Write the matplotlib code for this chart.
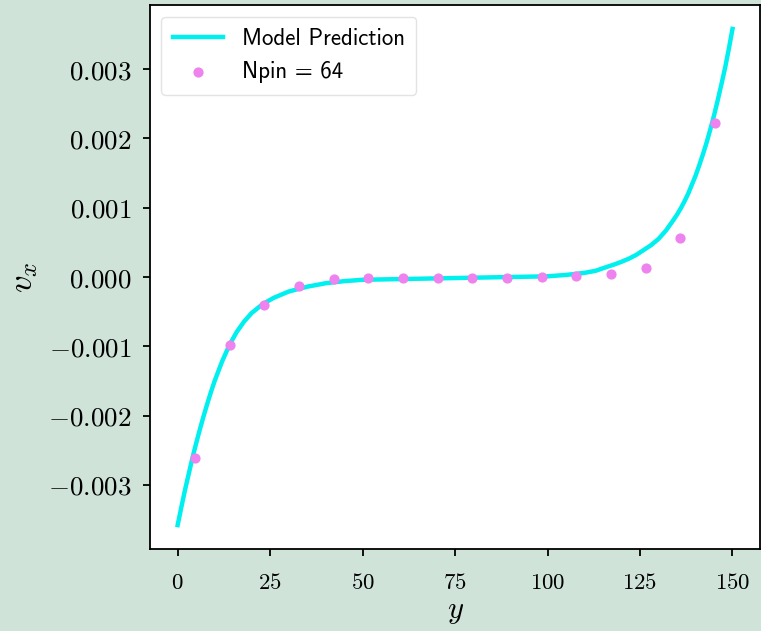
import matplotlib
matplotlib.use('Agg')
import matplotlib.pyplot as plt
import numpy as np

plt.rcParams['mathtext.fontset'] = 'cm'

# model prediction curve
y_model = [0, 1, 2, 3, 4, 5, 6, 7, 8, 9, 10, 11, 12, 13, 14, 16, 18, 20, 23, 26,
           30, 35, 40, 45, 50, 60, 70, 80, 90, 100, 105, 110, 113, 116, 118, 120,
           122, 124, 126, 128, 130, 132, 134, 135, 136, 137, 138, 139, 140, 141,
           142, 143, 144, 145, 146, 147, 148, 149, 150]
vx_model = [-0.00358, -0.00332, -0.00307, -0.00284, -0.00261, -0.00240, -0.00220,
            -0.00201, -0.00183, -0.00166, -0.00150, -0.00136, -0.00122, -0.00110,
            -0.00098, -0.00079, -0.00064, -0.00052, -0.00039, -0.00030, -0.00021,
            -0.00014, -0.00009, -0.00006, -0.00004, -0.00003, -0.00002, -0.00001,
            0.0, 0.00001, 0.00003, 0.00006, 0.00009, 0.000145, 0.00018, 0.00022,
            0.000265, 0.00032, 0.00039, 0.00046, 0.00055, 0.00067, 0.00082, 0.00090,
            0.00099, 0.00109, 0.00120, 0.00133, 0.00146, 0.00161, 0.00177, 0.00194,
            0.00213, 0.00233, 0.00255, 0.00278, 0.00302, 0.00329, 0.00358]

# Npin = 64 samples
y_pin = [4.69, 14.06, 23.44, 32.81, 42.19, 51.56, 60.94, 70.31, 79.69, 89.06,
         98.44, 107.81, 117.19, 126.56, 135.94, 145.31]
vx_pin = [-0.00261, -0.00098, -0.00040, -0.00013, -0.00003, -0.00001, -0.00001,
          -0.00001, -0.00001, -0.00001, 0.0, 0.00001, 0.00004, 0.00013, 0.00056,
          0.00222]

xticks = [0, 25, 50, 75, 100, 125, 150]
yticks = [-0.003, -0.002, -0.001, 0.0, 0.001, 0.002, 0.003]

bg = '#cfe3d9'
fig = plt.figure(figsize=(7.61, 6.31), dpi=100, facecolor=bg)
ax = fig.add_axes([0.197, 0.13, 0.802, 0.862])

ax.plot(y_model, vx_model, color='#00f0f0', lw=3.2, label='Model Prediction', zorder=2)
ax.scatter(y_pin, vx_pin, color='violet', s=40, label='Npin = 64', zorder=3)

ax.set_xticks(xticks)
ax.set_xticklabels([f'${t}$' for t in xticks])
ax.set_yticks(yticks)
ax.set_yticklabels([f'${t:.3f}$' for t in yticks])
ax.tick_params(length=5, width=1.3, pad=8)
ax.tick_params(axis='x', labelsize=16.5, pad=11)
ax.tick_params(axis='y', labelsize=19.5)
ax.set_xlim(-7.5, 157.5)
ax.set_ylim(-0.003925, 0.003925)

for s in ax.spines.values():
    s.set_linewidth(1.3)

ax.set_xlabel('$y$', fontsize=22, labelpad=2)
ax.set_ylabel('$v_x$', fontsize=25, labelpad=6)

leg = ax.legend(loc='upper left', prop={'family': 'cmss10', 'size': 16.5},
                frameon=True, fancybox=True, borderpad=0.5, handlelength=2.2)
leg.get_frame().set_edgecolor('#dddddd')

plt.savefig('out.png', dpi=100, facecolor=bg)
